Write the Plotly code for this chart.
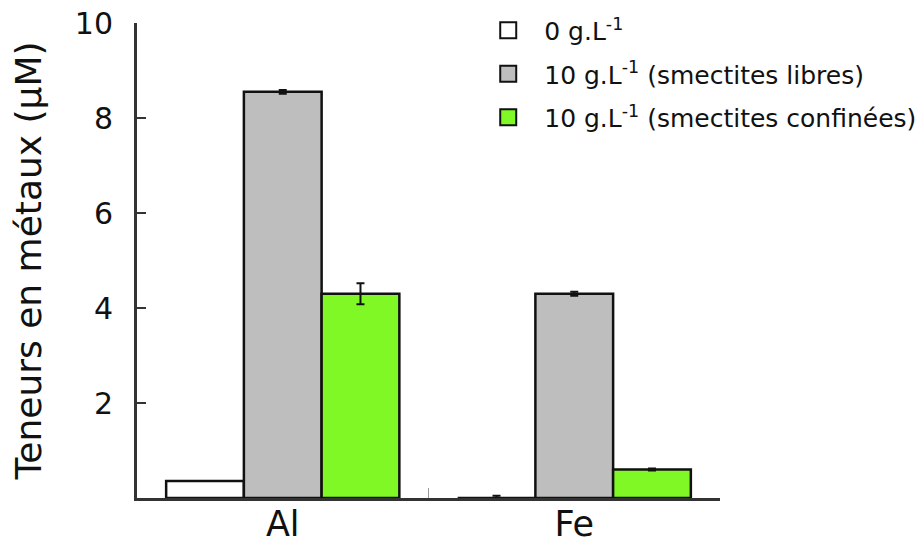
import plotly.graph_objects as go

categories = ["Al", "Fe"]
series_names = ["0 g.L<sup>-1</sup>",
                "10 g.L<sup>-1</sup> (smectites libres)",
                "10 g.L<sup>-1</sup> (smectites confinées)"]
values_0 = [0.36, 0.0]
values_libres = [8.55, 4.3]
values_confinees = [4.3, 0.6]
err_0 = [0.0, 0.05]
err_libres = [0.04, 0.04]
err_confinees = [0.22, 0.02]
colors = ["#ffffff", "#bebebe", "#80f826"]
y_ticks = [2, 4, 6, 8, 10]

font = "DejaVu Sans, Verdana, sans-serif"
fig = go.Figure()
for i, (name, vals, errs, col) in enumerate(zip(series_names,
                                 [values_0, values_libres, values_confinees],
                                 [err_0, err_libres, err_confinees], colors)):
    fig.add_trace(go.Bar(
        x=categories, y=vals, name=name, showlegend=False, legendgroup=f"g{i}",
        marker=dict(color=col, line=dict(color="#111111", width=2.5)),
        error_y=dict(type="data", array=errs, color="#111111", thickness=2, width=4),
    ))
    # legend entry (no data) with a larger square symbol
    fig.add_trace(go.Scatter(
        x=[None], y=[None], mode="markers", name=name, legendgroup=f"g{i}",
        marker=dict(symbol="square", size=16, color=col,
                    line=dict(color="#111111", width=2)),
    ))

fig.update_layout(
    width=924, height=540,
    barmode="group", bargap=0.2, bargroupgap=0,
    plot_bgcolor="white", paper_bgcolor="white",
    margin=dict(l=129, r=212, t=15, b=50, autoexpand=False),
    font=dict(family=font, color="#111111"),
    showlegend=True,
    legend=dict(x=0.575, y=1.0325, xanchor="left", yanchor="top",
                font=dict(size=25, family=font), bgcolor="rgba(0,0,0,0)",
                tracegroupgap=8, traceorder="grouped", itemwidth=62),
)
fig.update_xaxes(
    showline=True, linecolor="#333333", linewidth=3,
    ticks="inside", tickson="boundaries", ticklen=10, tickcolor="#999999", tickwidth=1,
    tickfont=dict(size=35, family=font), range=[-0.5, 1.5], showgrid=False,
    ticklabelstandoff=-7, ticklabeloverflow="allow",
)
fig.update_yaxes(
    range=[0, 10], tickvals=y_ticks, ticktext=[str(t) for t in y_ticks],
    showline=True, linecolor="#333333", linewidth=3,
    ticks="inside", ticklen=9, tickcolor="#333333", tickwidth=1.5,
    tickfont=dict(size=30, family=font), showgrid=False, zeroline=False,
    ticklabelstandoff=15, ticklabeloverflow="allow",
    title=dict(text="Teneurs en métaux (µM)", font=dict(size=36, family=font), standoff=41),
)
fig.write_html("out.html")
